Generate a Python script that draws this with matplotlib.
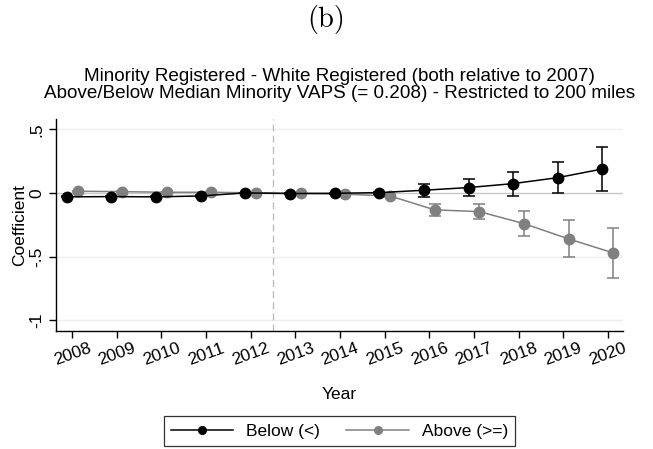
import matplotlib
matplotlib.use("Agg")
import matplotlib.pyplot as plt
from matplotlib.lines import Line2D
import numpy as np

years = [2008, 2009, 2010, 2011, 2012, 2013, 2014, 2015, 2016, 2017, 2018, 2019, 2020]

below = [-0.031, -0.029, -0.031, -0.024, 0.0, -0.005, -0.003, 0.002, 0.021, 0.042, 0.073, 0.120, 0.188]
below_lo = [-0.036, -0.034, -0.036, -0.029, 0.0, -0.010, -0.008, -0.006, -0.031, -0.024, -0.021, 0.000, 0.018]
below_hi = [-0.026, -0.024, -0.026, -0.019, 0.0, 0.000, 0.002, 0.010, 0.073, 0.107, 0.162, 0.243, 0.359]

above = [0.013, 0.010, 0.005, 0.005, 0.0, -0.003, -0.010, -0.024, -0.133, -0.147, -0.241, -0.361, -0.471]
above_lo = [0.008, 0.005, 0.000, 0.000, 0.0, -0.008, -0.015, -0.030, -0.178, -0.204, -0.338, -0.505, -0.665]
above_hi = [0.018, 0.015, 0.010, 0.010, 0.0, 0.002, -0.005, -0.018, -0.089, -0.086, -0.144, -0.215, -0.272]

ytick_vals = [0.5, 0.0, -0.5, -1.0]
ytick_labels = [".5", "0", "-.5", "-1"]
series_labels = ["Below (<)", "Above (>=)"]
title_lines = ["Minority Registered - White Registered (both relative to 2007)",
               "Above/Below Median Minority VAPS (= 0.208) - Restricted to 200 miles"]

plt.rcParams["font.family"] = ["Liberation Sans", "DejaVu Sans"]

W, H = 653, 449
fig = plt.figure(figsize=(W / 100, H / 100), dpi=100)
ax = fig.add_axes([55.7 / W, 1 - 330.7 / H, (623 - 55.7) / W, (330.7 - 119.3) / H])

x = np.array(years, dtype=float)
off = 0.12

# reference lines
for v in [0.5, -0.5, -1.0]:
    ax.axhline(v, color="#eeeeee", lw=1.0, zorder=0)
ax.axhline(0, color="#c8c8c8", lw=1.0, zorder=1)
ax.axvline(2012.5, color="#bdbdbd", lw=1.0, ls=(0, (5, 3)), zorder=1)

b = np.array(below)
a = np.array(above)
ax.errorbar(x - off, b, yerr=[b - np.array(below_lo), np.array(below_hi) - b],
            fmt="o-", color="black", ms=7.5, lw=1.1, capsize=4, elinewidth=1.1,
            capthick=1.1, label=series_labels[0], zorder=4)
ax.errorbar(x + off, a, yerr=[a - np.array(above_lo), np.array(above_hi) - a],
            fmt="o-", color="#808080", ms=7.5, lw=1.1, capsize=4, elinewidth=1.1,
            capthick=1.1, label=series_labels[1], zorder=3)

ax.set_xlim(2007.63, 2020.34)
ax.set_ylim(-1.082, 0.578)
ax.set_xticks(years)
ax.set_xticklabels([str(y) for y in years], rotation=20, fontsize=12.5)
ax.set_yticks(ytick_vals)
ax.set_yticklabels(ytick_labels, rotation=90, va="center", fontsize=12.5)
ax.tick_params(axis="both", direction="out", length=5, width=1, colors="black")
ax.tick_params(axis="x", pad=2)
ax.tick_params(axis="y", pad=3)
for s in ["top", "right"]:
    ax.spines[s].set_visible(False)
for s in ["left", "bottom"]:
    ax.spines[s].set_linewidth(1.0)

ax.set_xlabel("Year", fontsize=12.5, labelpad=14)
ax.set_ylabel("Coefficient", fontsize=12.5, labelpad=2)

# two-line title centred over the plot region
xc = (55.7 + 623) / 2 / W
fig.text(xc, 1 - 81 / H, title_lines[0], fontsize=13.6, ha="center", va="baseline")
fig.text(xc, 1 - 97.5 / H, title_lines[1], fontsize=13.6, ha="center", va="baseline")

fig.text(0.5, 1 - 20 / H, "(b)", family="cmr10", fontsize=20.5, ha="center", va="center")

h = [Line2D([], [], color="black", marker="o", ms=5.5, lw=1.1),
     Line2D([], [], color="#808080", marker="o", ms=5.5, lw=1.1)]
leg = fig.legend(h, series_labels, loc="center", ncol=2, fontsize=12.5,
                 bbox_to_anchor=((163 + 516) / 2 / W, 1 - 431 / H),
                 frameon=True, fancybox=False, edgecolor="black", handlelength=3.6,
                 columnspacing=1.5, handletextpad=0.75, borderpad=0.4)
leg.get_frame().set_linewidth(0.9)

fig.savefig("out.png", dpi=100)
